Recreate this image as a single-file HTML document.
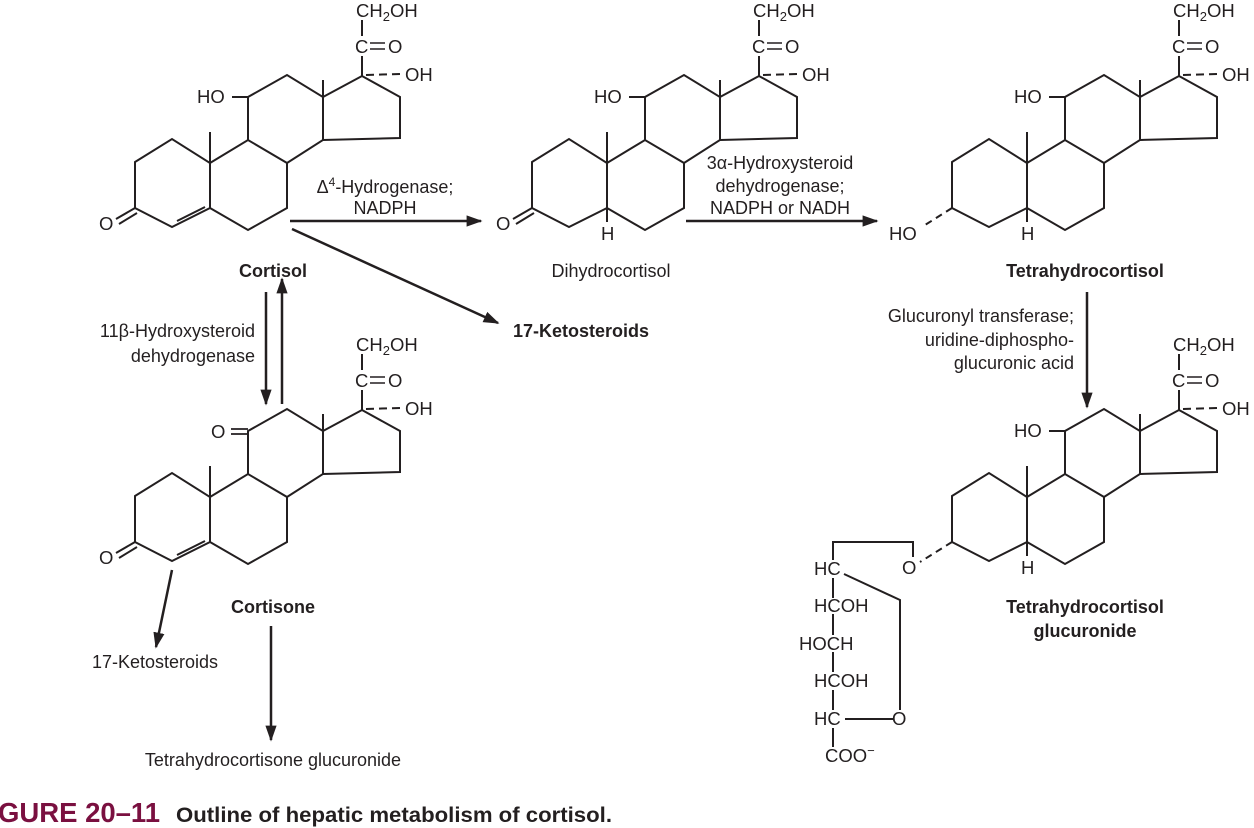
<!DOCTYPE html>
<html><head><meta charset="utf-8"><style>
html,body{margin:0;padding:0;background:#fff;}
svg{display:block;}
text{font-family:"Liberation Sans",sans-serif;fill:#231f20;}
</style></head><body>
<svg width="1254" height="828" viewBox="0 0 1254 828" xmlns="http://www.w3.org/2000/svg">
<defs>
<marker id="ah2" viewBox="0 0 10 10" refX="9" refY="5" markerWidth="16" markerHeight="16" orient="auto" markerUnits="userSpaceOnUse">
<path d="M0,1.5 L10,5 L0,8.5 z" fill="#231f20"/></marker>
<g id="sk">
<path d="M135,162 L172,139 L210,163 L210,208 L172,227 L135,208 Z M210,163 L248,140 L287,163 L287,208 L248,230 L210,208 M248,140 L248,97 L287,75 L323,97 L323,140 L287,163 M323,97 L362,76 L400,97 L400,138 L323,140 M210,163 L210,132 M323,97 L323,80 M362,76 L362,56 M362,20 L362,36" fill="none" stroke="#231f20" stroke-width="2"/>
<path d="M366,75 L400,74" stroke="#231f20" stroke-width="2" stroke-dasharray="8,5"/>
<text x="356" y="17" font-size="18.5">CH<tspan font-size="13" dy="4">2</tspan><tspan dy="-4">OH</tspan></text>
<text x="355" y="53" font-size="18.5">C</text>
<path d="M370,43 L385,43 M370,49 L385,49" stroke="#231f20" stroke-width="1.6"/>
<text x="388" y="53" font-size="18.5">O</text>
<text x="405" y="81" font-size="18.5">OH</text>
</g>
<g id="hoC11">
<path d="M232,97 L248,97" stroke="#231f20" stroke-width="2"/>
<text x="197" y="103" font-size="18.5">HO</text>
</g>
<g id="enone">
<path d="M135,208 L116,219 M137,213 L119,224 M177,221 L205,207" stroke="#231f20" stroke-width="2" fill="none"/>
<text x="99" y="230" font-size="18.5">O</text>
</g>
</defs>

<use href="#sk"/><use href="#hoC11"/><use href="#enone"/>
<g transform="translate(397,0)"><use href="#sk"/><use href="#hoC11"/>
<path d="M135,208 L116,219 M137,213 L119,224 M210,208 L210,222" stroke="#231f20" stroke-width="2" fill="none"/>
<text x="99" y="230" font-size="18.5">O</text>
<text x="204" y="240" font-size="18.5">H</text></g>
<g transform="translate(817,0)"><use href="#sk"/><use href="#hoC11"/>
<path d="M135,208 L108,225" stroke="#231f20" stroke-width="2" stroke-dasharray="7,5"/>
<path d="M210,208 L210,222" stroke="#231f20" stroke-width="2"/>
<text x="72" y="240" font-size="18.5">HO</text>
<text x="204" y="240" font-size="18.5">H</text></g>
<g transform="translate(0,334)"><use href="#sk"/><use href="#enone"/>
<path d="M248,95 L231,95 M248,100 L231,100" stroke="#231f20" stroke-width="1.8"/>
<text x="211" y="104" font-size="18.5">O</text></g>
<g transform="translate(817,334)"><use href="#sk"/><use href="#hoC11"/>
<path d="M210,208 L210,222" stroke="#231f20" stroke-width="2"/>
<text x="204" y="240" font-size="18.5">H</text>
<path d="M135,208 L103,228" stroke="#231f20" stroke-width="2" stroke-dasharray="7,5"/></g>
<text x="902" y="574" font-size="18.5">O</text>
<path d="M833,560 L833,542 L913,542 L913,557 M833,578 L833,598 M833,614 L833,635 M833,652 L833,672 M833,690 L833,710 M833,728 L833,747 M844,574 L900,600 L900,710 M845,719 L893,719" fill="none" stroke="#231f20" stroke-width="2"/>
<text x="814" y="575" font-size="18.5">HC</text>
<text x="814" y="612" font-size="18.5">HCOH</text>
<text x="799" y="650" font-size="18.5">HOCH</text>
<text x="814" y="687" font-size="18.5">HCOH</text>
<text x="814" y="725" font-size="18.5">HC</text>
<text x="892" y="725" font-size="18.5">O</text>
<text x="825" y="762" font-size="18.5">COO<tspan font-size="13" dy="-7">−</tspan></text>

<g stroke="#231f20" stroke-width="2.5" fill="none">
<path d="M290,221 L481,221" marker-end="url(#ah2)"/>
<path d="M292,229 L498,323" marker-end="url(#ah2)"/>
<path d="M686,221 L877,221" marker-end="url(#ah2)"/>
<path d="M266,292 L266,404" marker-end="url(#ah2)"/>
<path d="M282,404 L282,279" marker-end="url(#ah2)"/>
<path d="M172,570 L156,647" marker-end="url(#ah2)"/>
<path d="M271,626 L271,740" marker-end="url(#ah2)"/>
<path d="M1087,292 L1087,407" marker-end="url(#ah2)"/>
</g>

<g font-size="18">
<text x="385" y="193" text-anchor="middle">Δ<tspan font-size="12" dy="-7">4</tspan><tspan dy="7">-Hydrogenase;</tspan></text>
<text x="385" y="214" text-anchor="middle">NADPH</text>
<text x="780" y="169" text-anchor="middle">3α-Hydroxysteroid</text>
<text x="780" y="192" text-anchor="middle">dehydrogenase;</text>
<text x="780" y="214" text-anchor="middle">NADPH or NADH</text>
<text x="611" y="277" text-anchor="middle">Dihydrocortisol</text>
<text x="255" y="337" text-anchor="end">11β-Hydroxysteroid</text>
<text x="255" y="362" text-anchor="end">dehydrogenase</text>
<text x="1074" y="322" text-anchor="end">Glucuronyl transferase;</text>
<text x="1074" y="346" text-anchor="end">uridine-diphospho-</text>
<text x="1074" y="369" text-anchor="end">glucuronic acid</text>
<text x="155" y="668" text-anchor="middle">17-Ketosteroids</text>
<text x="273" y="766" text-anchor="middle">Tetrahydrocortisone glucuronide</text>
</g>
<g font-size="18" font-weight="bold">
<text x="273" y="277" text-anchor="middle">Cortisol</text>
<text x="1085" y="277" text-anchor="middle">Tetrahydrocortisol</text>
<text x="581" y="337" text-anchor="middle">17-Ketosteroids</text>
<text x="273" y="613" text-anchor="middle">Cortisone</text>
<text x="1085" y="613" text-anchor="middle">Tetrahydrocortisol</text>
<text x="1085" y="637" text-anchor="middle">glucuronide</text>
</g>
<text x="-2" y="822" font-size="28" font-weight="bold" style="fill:#7a1040" textLength="162" lengthAdjust="spacingAndGlyphs">GURE 20–11</text>
<text x="176" y="822" font-size="21" font-weight="bold" textLength="436" lengthAdjust="spacingAndGlyphs">Outline of hepatic metabolism of cortisol.</text>
</svg>
</body></html>
